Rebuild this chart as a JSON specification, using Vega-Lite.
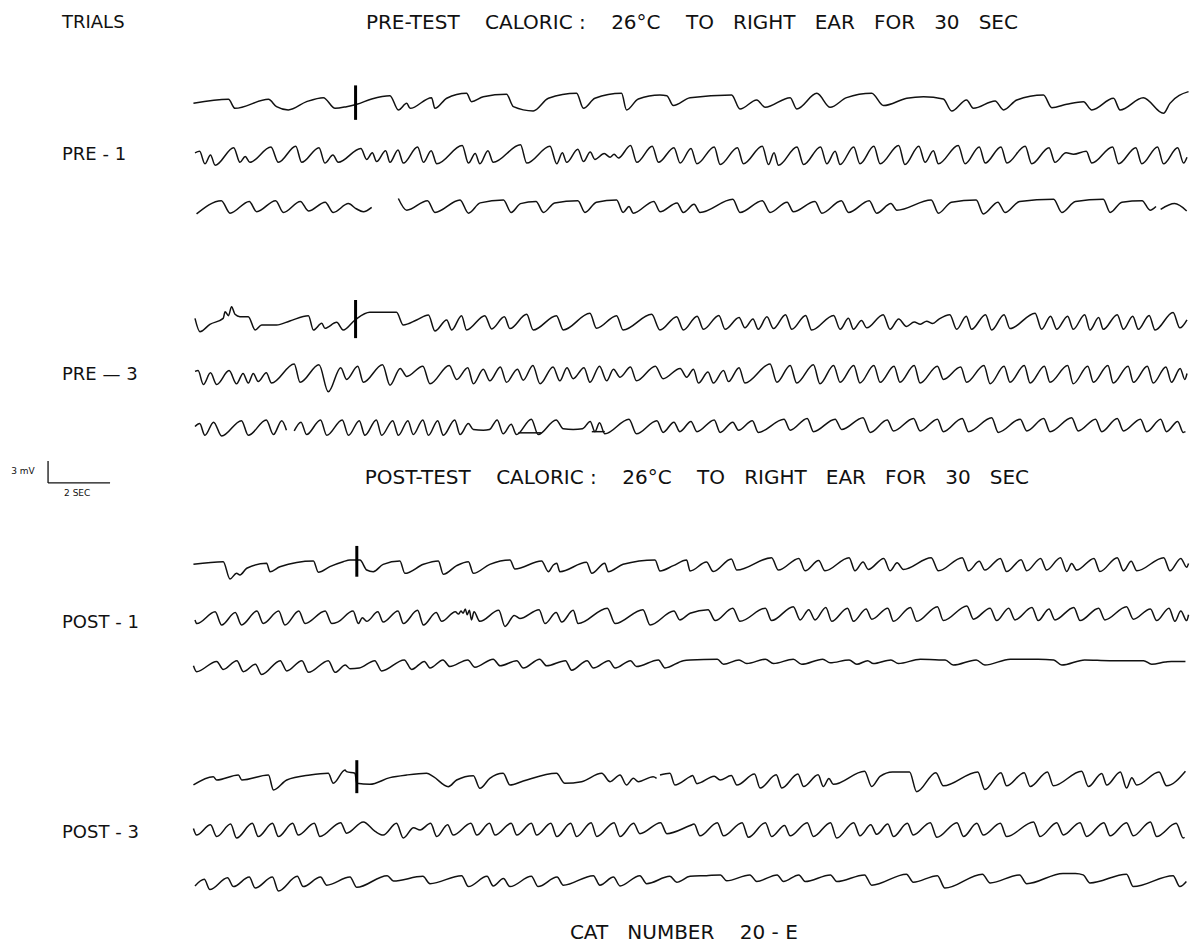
{
"$schema":"https://vega.github.io/schema/vega-lite/v6.json",
"width":1198,"height":949,
"autosize":{"type":"fit","contains":"padding"},
"padding":0,
"background":"white",
"config":{"view":{"stroke":null}},
"datasets":{
"tr":[
{"c":"A1","t":-0.05,"v":-0.05},{"c":"A1","t":1.08,"v":0.5},{"c":"A1","t":1.29,"v":-0.73},{"c":"A1","t":2.37,"v":0.5},{"c":"A1","t":2.63,"v":-0.5},{"c":"A1","t":3.01,"v":-0.95},{"c":"A1","t":3.6,"v":0.18},{"c":"A1","t":4.14,"v":0.73},{"c":"A1","t":4.52,"v":-0.73},{"c":"A1","t":4.89,"v":-0.5},{"c":"A1","t":5.22,"v":-0.18},{"c":"A1","t":5.7,"v":0.55},{"c":"A1","t":6.29,"v":1.0},{"c":"A1","t":6.56,"v":-0.95},{"c":"A1","t":6.83,"v":-0.05},{"c":"A1","t":6.94,"v":-0.73},{"c":"A1","t":7.63,"v":0.73},{"c":"A1","t":7.74,"v":-0.73},{"c":"A1","t":8.12,"v":0.64},{"c":"A1","t":8.76,"v":1.32},{"c":"A1","t":8.92,"v":0.18},{"c":"A1","t":9.3,"v":0.86},{"c":"A1","t":10.05,"v":1.18},{"c":"A1","t":10.27,"v":-0.5},{"c":"A1","t":10.91,"v":-1.09},{"c":"A1","t":11.4,"v":0.64},{"c":"A1","t":12.31,"v":1.32},{"c":"A1","t":12.53,"v":-0.73},{"c":"A1","t":12.9,"v":0.64},{"c":"A1","t":13.76,"v":1.32},{"c":"A1","t":13.92,"v":-0.95},{"c":"A1","t":14.3,"v":0.55},{"c":"A1","t":15.0,"v":1.09},{"c":"A1","t":15.22,"v":1.0},{"c":"A1","t":15.43,"v":-0.36},{"c":"A1","t":15.97,"v":0.7},{"c":"A1","t":17.31,"v":1.09},{"c":"A1","t":17.58,"v":-0.82},{"c":"A1","t":18.12,"v":0.41},{"c":"A1","t":18.39,"v":-0.59},{"c":"A1","t":19.2,"v":0.73},{"c":"A1","t":19.41,"v":-0.82},{"c":"A1","t":20.06,"v":1.32},{"c":"A1","t":20.49,"v":-0.59},{"c":"A1","t":21.02,"v":0.73},{"c":"A1","t":21.83,"v":1.32},{"c":"A1","t":22.21,"v":-0.36},{"c":"A1","t":22.96,"v":0.64},{"c":"A1","t":23.5,"v":0.86},{"c":"A1","t":24.14,"v":0.55},{"c":"A1","t":24.41,"v":-1.09},{"c":"A1","t":24.89,"v":0.41},{"c":"A1","t":25.11,"v":-0.73},{"c":"A1","t":25.81,"v":0.27},{"c":"A1","t":26.08,"v":-0.95},{"c":"A1","t":26.51,"v":0.41},{"c":"A1","t":27.37,"v":1.09},{"c":"A1","t":27.64,"v":-0.64},{"c":"A1","t":28.12,"v":-0.18},{"c":"A1","t":28.66,"v":0.18},{"c":"A1","t":28.93,"v":-0.95},{"c":"A1","t":29.63,"v":0.64},{"c":"A1","t":29.84,"v":-0.95},{"c":"A1","t":30.59,"v":0.73},{"c":"A1","t":31.24,"v":-1.41},{"c":"A1","t":31.45,"v":-0.05},{"c":"A1","t":32.05,"v":1.55},

{"c":"A2","t":0.0,"v":0.3},{"c":"A2","t":0.15,"v":0.5},{"c":"A2","t":0.32,"v":-1.2},{"c":"A2","t":0.5,"v":0.0},{"c":"A2","t":0.65,"v":-1.4},{"c":"A2","t":1.25,"v":1.0},{"c":"A2","t":1.45,"v":-1.0},{"c":"A2","t":1.62,"v":-0.2},{"c":"A2","t":1.77,"v":-1.0},{"c":"A2","t":2.45,"v":1.1},{"c":"A2","t":2.69,"v":-1.0},{"c":"A2","t":3.25,"v":1.2},{"c":"A2","t":3.44,"v":-1.0},{"c":"A2","t":4.0,"v":1.0},{"c":"A2","t":4.19,"v":-1.1},{"c":"A2","t":4.45,"v":0.0},{"c":"A2","t":4.62,"v":-1.0},{"c":"A2","t":5.35,"v":0.9},{"c":"A2","t":5.54,"v":-0.6},{"c":"A2","t":5.72,"v":0.3},{"c":"A2","t":5.86,"v":-0.9},{"c":"A2","t":6.15,"v":0.6},{"c":"A2","t":6.29,"v":-1.0},{"c":"A2","t":6.55,"v":0.7},{"c":"A2","t":6.72,"v":-1.1},{"c":"A2","t":7.18,"v":1.1},{"c":"A2","t":7.37,"v":-1.0},{"c":"A2","t":7.62,"v":0.6},{"c":"A2","t":7.8,"v":-1.2},{"c":"A2","t":8.62,"v":1.3},{"c":"A2","t":8.82,"v":-1.1},{"c":"A2","t":9.04,"v":0.2},{"c":"A2","t":9.19,"v":-1.2},{"c":"A2","t":9.45,"v":0.6},{"c":"A2","t":9.62,"v":-1.0},{"c":"A2","t":10.5,"v":1.4},{"c":"A2","t":10.7,"v":-1.1},{"c":"A2","t":11.45,"v":1.2},{"c":"A2","t":11.67,"v":-1.2},{"c":"A2","t":11.85,"v":0.3},{"c":"A2","t":11.99,"v":-1.0},{"c":"A2","t":12.35,"v":0.8},{"c":"A2","t":12.53,"v":-0.9},{"c":"A2","t":12.75,"v":0.4},{"c":"A2","t":12.9,"v":-0.6},{"c":"A2","t":13.2,"v":0.2},{"c":"A2","t":13.39,"v":-0.3},{"c":"A2","t":13.52,"v":0.1},{"c":"A2","t":13.66,"v":-0.4},{"c":"A2","t":14.05,"v":1.3},{"c":"A2","t":14.25,"v":-1.0},{"c":"A2","t":14.75,"v":1.2},{"c":"A2","t":14.95,"v":-1.0},{"c":"A2","t":15.45,"v":1.0},{"c":"A2","t":15.65,"v":-1.1},{"c":"A2","t":16.0,"v":0.9},{"c":"A2","t":16.19,"v":-1.2},{"c":"A2","t":16.75,"v":1.1},{"c":"A2","t":16.94,"v":-1.3},{"c":"A2","t":17.5,"v":1.0},{"c":"A2","t":17.69,"v":-1.2},{"c":"A2","t":18.3,"v":1.2},{"c":"A2","t":18.5,"v":-1.3},{"c":"A2","t":18.68,"v":0.3},{"c":"A2","t":18.82,"v":-1.4},{"c":"A2","t":19.42,"v":1.1},{"c":"A2","t":19.63,"v":-1.3},{"c":"A2","t":20.18,"v":1.1},{"c":"A2","t":20.38,"v":-1.2},{"c":"A2","t":20.65,"v":0.5},{"c":"A2","t":20.81,"v":-1.3},{"c":"A2","t":21.25,"v":1.1},{"c":"A2","t":21.45,"v":-1.2},{"c":"A2","t":21.9,"v":1.2},{"c":"A2","t":22.1,"v":-1.2},{"c":"A2","t":22.7,"v":1.3},{"c":"A2","t":22.9,"v":-1.3},{"c":"A2","t":23.35,"v":1.2},{"c":"A2","t":23.55,"v":-1.0},{"c":"A2","t":23.82,"v":0.6},{"c":"A2","t":23.98,"v":-1.2},{"c":"A2","t":24.62,"v":1.3},{"c":"A2","t":24.84,"v":-1.2},{"c":"A2","t":25.3,"v":1.1},{"c":"A2","t":25.49,"v":-1.1},{"c":"A2","t":26.0,"v":1.1},{"c":"A2","t":26.19,"v":-1.1},{"c":"A2","t":26.78,"v":1.2},{"c":"A2","t":26.99,"v":-1.2},{"c":"A2","t":27.55,"v":1.0},{"c":"A2","t":27.74,"v":-1.0},{"c":"A2","t":28.1,"v":0.3},{"c":"A2","t":28.34,"v":0.1},{"c":"A2","t":28.75,"v":0.5},{"c":"A2","t":28.93,"v":-1.1},{"c":"A2","t":29.6,"v":1.1},{"c":"A2","t":29.79,"v":-1.2},{"c":"A2","t":30.35,"v":1.0},{"c":"A2","t":30.54,"v":-1.2},{"c":"A2","t":31.05,"v":1.1},{"c":"A2","t":31.24,"v":-1.2},{"c":"A2","t":31.7,"v":1.0},{"c":"A2","t":31.89,"v":-1.1},{"c":"A2","t":32.0,"v":-0.3},

{"c":"A3","s":"a","t":0.05,"v":-0.8},{"c":"A3","s":"a","t":0.85,"v":1.0},{"c":"A3","s":"a","t":1.13,"v":-0.7},{"c":"A3","s":"a","t":1.75,"v":0.9},{"c":"A3","s":"a","t":1.99,"v":-0.5},{"c":"A3","s":"a","t":2.6,"v":1.0},{"c":"A3","s":"a","t":2.85,"v":-0.6},{"c":"A3","s":"a","t":3.4,"v":0.9},{"c":"A3","s":"a","t":3.66,"v":-0.4},{"c":"A3","s":"a","t":4.2,"v":0.8},{"c":"A3","s":"a","t":4.46,"v":-0.6},{"c":"A3","s":"a","t":4.95,"v":0.6},{"c":"A3","s":"a","t":5.2,"v":-0.1},{"c":"A3","s":"a","t":5.43,"v":-0.5},{"c":"A3","s":"a","t":5.7,"v":0.1},
{"c":"A3","s":"b","t":6.56,"v":1.3},{"c":"A3","s":"b","t":6.83,"v":-0.3},{"c":"A3","s":"b","t":7.5,"v":1.0},{"c":"A3","s":"b","t":7.74,"v":-0.6},{"c":"A3","s":"b","t":8.55,"v":1.1},{"c":"A3","s":"b","t":8.82,"v":-0.7},{"c":"A3","s":"b","t":9.2,"v":0.7},{"c":"A3","s":"b","t":9.95,"v":1.1},{"c":"A3","s":"b","t":10.2,"v":-0.6},{"c":"A3","s":"b","t":10.5,"v":0.6},{"c":"A3","s":"b","t":11.0,"v":0.9},{"c":"A3","s":"b","t":11.24,"v":-0.6},{"c":"A3","s":"b","t":11.6,"v":0.7},{"c":"A3","s":"b","t":12.35,"v":1.0},{"c":"A3","s":"b","t":12.58,"v":-0.6},{"c":"A3","s":"b","t":12.95,"v":0.8},{"c":"A3","s":"b","t":13.6,"v":1.1},{"c":"A3","s":"b","t":13.81,"v":-0.6},{"c":"A3","s":"b","t":14.0,"v":0.2},{"c":"A3","s":"b","t":14.14,"v":-0.7},{"c":"A3","s":"b","t":14.8,"v":0.9},{"c":"A3","s":"b","t":15.0,"v":-0.5},{"c":"A3","s":"b","t":15.55,"v":0.7},{"c":"A3","s":"b","t":15.75,"v":-0.6},{"c":"A3","s":"b","t":16.1,"v":0.5},{"c":"A3","s":"b","t":16.29,"v":-0.6},{"c":"A3","s":"b","t":17.35,"v":1.2},{"c":"A3","s":"b","t":17.58,"v":-0.6},{"c":"A3","s":"b","t":18.3,"v":1.0},{"c":"A3","s":"b","t":18.55,"v":-0.6},{"c":"A3","s":"b","t":19.1,"v":0.8},{"c":"A3","s":"b","t":19.3,"v":-0.5},{"c":"A3","s":"b","t":20.0,"v":0.9},{"c":"A3","s":"b","t":20.22,"v":-0.7},{"c":"A3","s":"b","t":20.85,"v":1.0},{"c":"A3","s":"b","t":21.08,"v":-0.6},{"c":"A3","s":"b","t":21.75,"v":1.0},{"c":"A3","s":"b","t":21.99,"v":-0.7},{"c":"A3","s":"b","t":22.45,"v":0.6},{"c":"A3","s":"b","t":22.64,"v":-0.3},{"c":"A3","s":"b","t":23.75,"v":1.1},{"c":"A3","s":"b","t":23.98,"v":-0.7},{"c":"A3","s":"b","t":24.4,"v":0.8},{"c":"A3","s":"b","t":25.2,"v":1.1},{"c":"A3","s":"b","t":25.43,"v":-0.8},{"c":"A3","s":"b","t":25.9,"v":0.8},{"c":"A3","s":"b","t":26.13,"v":-0.6},{"c":"A3","s":"b","t":26.6,"v":0.9},{"c":"A3","s":"b","t":27.7,"v":1.2},{"c":"A3","s":"b","t":27.96,"v":-0.6},{"c":"A3","s":"b","t":28.4,"v":0.9},{"c":"A3","s":"b","t":29.3,"v":1.2},{"c":"A3","s":"b","t":29.52,"v":-0.6},{"c":"A3","s":"b","t":29.9,"v":0.8},{"c":"A3","s":"b","t":30.55,"v":1.0},{"c":"A3","s":"b","t":30.81,"v":-0.3},{"c":"A3","s":"b","t":31.0,"v":0.2},
{"c":"A3","s":"c","t":31.15,"v":-0.2},{"c":"A3","s":"c","t":31.6,"v":0.6},{"c":"A3","s":"c","t":31.99,"v":-0.4},

{"c":"B1","t":0.0,"v":0.5},{"c":"B1","t":0.16,"v":-1.32},{"c":"B1","t":0.48,"v":-0.32},{"c":"B1","t":0.91,"v":0.5},{"c":"B1","t":0.97,"v":1.41},{"c":"B1","t":1.08,"v":0.86},{"c":"B1","t":1.18,"v":2.09},{"c":"B1","t":1.29,"v":1.05},{"c":"B1","t":1.45,"v":0.73},{"c":"B1","t":1.72,"v":0.73},{"c":"B1","t":1.94,"v":-1.09},{"c":"B1","t":2.15,"v":-0.41},{"c":"B1","t":2.63,"v":-0.41},{"c":"B1","t":3.06,"v":0.14},{"c":"B1","t":3.66,"v":0.86},{"c":"B1","t":3.82,"v":-1.09},{"c":"B1","t":4.09,"v":-0.18},{"c":"B1","t":4.19,"v":-0.86},{"c":"B1","t":4.57,"v":-0.05},{"c":"B1","t":4.78,"v":-1.09},{"c":"B1","t":5.16,"v":0.27},{"c":"B1","t":5.64,"v":1.32},{"c":"B1","t":6.5,"v":1.32},{"c":"B1","t":6.72,"v":-0.41},{"c":"B1","t":7.15,"v":0.27},{"c":"B1","t":7.53,"v":0.95},{"c":"B1","t":7.74,"v":-1.23},{"c":"B1","t":8.12,"v":0.27},{"c":"B1","t":8.28,"v":-1.09},{"c":"B1","t":8.6,"v":0.86},{"c":"B1","t":8.76,"v":-1.09},{"c":"B1","t":9.35,"v":0.86},{"c":"B1","t":9.57,"v":-0.95},{"c":"B1","t":9.98,"v":0.7},{"c":"B1","t":10.16,"v":-0.9},{"c":"B1","t":10.7,"v":1.05},{"c":"B1","t":10.91,"v":-1.09},{"c":"B1","t":11.66,"v":0.86},{"c":"B1","t":11.88,"v":-1.09},{"c":"B1","t":12.74,"v":1.18},{"c":"B1","t":12.95,"v":-0.86},{"c":"B1","t":13.6,"v":0.86},{"c":"B1","t":13.81,"v":-1.09},{"c":"B1","t":14.73,"v":1.05},{"c":"B1","t":15.0,"v":-1.09},{"c":"B1","t":15.54,"v":0.73},{"c":"B1","t":15.75,"v":-1.09},{"c":"B1","t":16.2,"v":0.8},{"c":"B1","t":16.4,"v":-1.0},{"c":"B1","t":16.9,"v":0.9},{"c":"B1","t":17.1,"v":-1.0},{"c":"B1","t":17.55,"v":0.6},{"c":"B1","t":17.74,"v":-0.8},{"c":"B1","t":18.0,"v":0.4},{"c":"B1","t":18.17,"v":-1.0},{"c":"B1","t":18.45,"v":0.7},{"c":"B1","t":18.66,"v":-0.9},{"c":"B1","t":19.05,"v":1.0},{"c":"B1","t":19.25,"v":-1.0},{"c":"B1","t":19.7,"v":0.9},{"c":"B1","t":19.89,"v":-1.1},{"c":"B1","t":20.6,"v":0.9},{"c":"B1","t":20.81,"v":-1.0},{"c":"B1","t":21.08,"v":0.5},{"c":"B1","t":21.24,"v":-1.0},{"c":"B1","t":21.5,"v":0.2},{"c":"B1","t":21.67,"v":-0.8},{"c":"B1","t":22.2,"v":1.0},{"c":"B1","t":22.42,"v":-1.0},{"c":"B1","t":22.7,"v":0.4},{"c":"B1","t":22.95,"v":-0.6},{"c":"B1","t":23.2,"v":0.0},{"c":"B1","t":23.4,"v":-0.3},{"c":"B1","t":23.6,"v":0.1},{"c":"B1","t":23.8,"v":-0.2},{"c":"B1","t":24.0,"v":0.4},{"c":"B1","t":24.35,"v":1.0},{"c":"B1","t":24.57,"v":-1.0},{"c":"B1","t":24.88,"v":0.8},{"c":"B1","t":25.05,"v":-1.0},{"c":"B1","t":25.5,"v":1.0},{"c":"B1","t":25.7,"v":-1.1},{"c":"B1","t":26.1,"v":1.0},{"c":"B1","t":26.29,"v":-0.9},{"c":"B1","t":27.1,"v":1.2},{"c":"B1","t":27.31,"v":-1.0},{"c":"B1","t":27.6,"v":0.8},{"c":"B1","t":27.8,"v":-1.0},{"c":"B1","t":28.15,"v":0.8},{"c":"B1","t":28.33,"v":-1.0},{"c":"B1","t":28.7,"v":1.0},{"c":"B1","t":28.87,"v":-1.1},{"c":"B1","t":29.15,"v":0.6},{"c":"B1","t":29.3,"v":-1.0},{"c":"B1","t":29.75,"v":1.0},{"c":"B1","t":29.95,"v":-1.0},{"c":"B1","t":30.25,"v":0.8},{"c":"B1","t":30.43,"v":-1.0},{"c":"B1","t":30.78,"v":0.9},{"c":"B1","t":30.97,"v":-1.1},{"c":"B1","t":31.55,"v":1.3},{"c":"B1","t":31.77,"v":-0.8},{"c":"B1","t":32.0,"v":0.3},

{"c":"B2","t":0.0,"v":0.5},{"c":"B2","t":0.1,"v":0.6},{"c":"B2","t":0.27,"v":-1.3},{"c":"B2","t":0.5,"v":0.3},{"c":"B2","t":0.7,"v":-1.3},{"c":"B2","t":1.1,"v":0.6},{"c":"B2","t":1.34,"v":-1.2},{"c":"B2","t":1.55,"v":0.2},{"c":"B2","t":1.72,"v":-1.1},{"c":"B2","t":1.88,"v":0.2},{"c":"B2","t":2.04,"v":-0.9},{"c":"B2","t":2.3,"v":0.3},{"c":"B2","t":2.47,"v":-1.1},{"c":"B2","t":3.2,"v":1.5},{"c":"B2","t":3.39,"v":-1.0},{"c":"B2","t":4.0,"v":1.4},{"c":"B2","t":4.3,"v":-2.3},{"c":"B2","t":4.7,"v":1.0},{"c":"B2","t":4.89,"v":-0.6},{"c":"B2","t":5.25,"v":1.2},{"c":"B2","t":5.43,"v":-1.0},{"c":"B2","t":6.05,"v":1.4},{"c":"B2","t":6.29,"v":-1.4},{"c":"B2","t":6.62,"v":0.9},{"c":"B2","t":6.83,"v":-0.2},{"c":"B2","t":7.35,"v":1.2},{"c":"B2","t":7.58,"v":-1.2},{"c":"B2","t":8.2,"v":1.3},{"c":"B2","t":8.44,"v":-0.6},{"c":"B2","t":8.8,"v":1.0},{"c":"B2","t":8.98,"v":-1.2},{"c":"B2","t":9.3,"v":0.8},{"c":"B2","t":9.51,"v":-0.8},{"c":"B2","t":9.85,"v":1.1},{"c":"B2","t":10.05,"v":-1.0},{"c":"B2","t":10.4,"v":0.8},{"c":"B2","t":10.59,"v":-0.7},{"c":"B2","t":10.9,"v":1.3},{"c":"B2","t":11.13,"v":-1.2},{"c":"B2","t":11.55,"v":1.1},{"c":"B2","t":11.77,"v":-0.8},{"c":"B2","t":12.0,"v":1.0},{"c":"B2","t":12.2,"v":-0.5},{"c":"B2","t":12.55,"v":1.0},{"c":"B2","t":12.74,"v":-1.0},{"c":"B2","t":13.05,"v":1.2},{"c":"B2","t":13.28,"v":-0.8},{"c":"B2","t":13.5,"v":0.8},{"c":"B2","t":13.71,"v":-0.3},{"c":"B2","t":14.05,"v":1.1},{"c":"B2","t":14.24,"v":-0.8},{"c":"B2","t":14.85,"v":1.2},{"c":"B2","t":15.1,"v":-0.5},{"c":"B2","t":15.65,"v":0.9},{"c":"B2","t":15.86,"v":-0.3},{"c":"B2","t":16.08,"v":0.8},{"c":"B2","t":16.24,"v":-1.1},{"c":"B2","t":16.55,"v":0.4},{"c":"B2","t":16.72,"v":-1.1},{"c":"B2","t":17.05,"v":0.6},{"c":"B2","t":17.21,"v":-0.9},{"c":"B2","t":17.55,"v":1.0},{"c":"B2","t":17.74,"v":-1.1},{"c":"B2","t":18.55,"v":1.5},{"c":"B2","t":18.77,"v":-1.0},{"c":"B2","t":19.2,"v":1.3},{"c":"B2","t":19.41,"v":-1.1},{"c":"B2","t":19.95,"v":1.4},{"c":"B2","t":20.16,"v":-1.2},{"c":"B2","t":20.6,"v":1.3},{"c":"B2","t":20.81,"v":-1.0},{"c":"B2","t":21.25,"v":1.3},{"c":"B2","t":21.45,"v":-1.1},{"c":"B2","t":21.9,"v":1.3},{"c":"B2","t":22.1,"v":-1.0},{"c":"B2","t":22.55,"v":1.2},{"c":"B2","t":22.74,"v":-1.0},{"c":"B2","t":23.2,"v":1.3},{"c":"B2","t":23.39,"v":-1.1},{"c":"B2","t":23.95,"v":1.2},{"c":"B2","t":24.14,"v":-0.6},{"c":"B2","t":24.7,"v":1.1},{"c":"B2","t":24.89,"v":-1.0},{"c":"B2","t":25.45,"v":1.3},{"c":"B2","t":25.65,"v":-1.2},{"c":"B2","t":26.1,"v":1.2},{"c":"B2","t":26.29,"v":-1.0},{"c":"B2","t":26.75,"v":1.3},{"c":"B2","t":26.94,"v":-1.1},{"c":"B2","t":27.4,"v":1.2},{"c":"B2","t":27.58,"v":-1.0},{"c":"B2","t":28.15,"v":1.3},{"c":"B2","t":28.33,"v":-1.2},{"c":"B2","t":28.8,"v":1.2},{"c":"B2","t":28.98,"v":-1.0},{"c":"B2","t":29.45,"v":1.3},{"c":"B2","t":29.62,"v":-1.1},{"c":"B2","t":30.1,"v":1.2},{"c":"B2","t":30.27,"v":-1.0},{"c":"B2","t":30.72,"v":1.2},{"c":"B2","t":30.91,"v":-1.1},{"c":"B2","t":31.32,"v":1.1},{"c":"B2","t":31.5,"v":-1.0},{"c":"B2","t":31.78,"v":0.9},{"c":"B2","t":31.93,"v":-0.6},{"c":"B2","t":32.0,"v":0.2},

{"c":"B3","s":"a","t":0.0,"v":0.2},{"c":"B3","s":"a","t":0.15,"v":0.6},{"c":"B3","s":"a","t":0.32,"v":-1.0},{"c":"B3","s":"a","t":0.6,"v":0.8},{"c":"B3","s":"a","t":0.86,"v":-1.1},{"c":"B3","s":"a","t":1.5,"v":1.0},{"c":"B3","s":"a","t":1.72,"v":-1.0},{"c":"B3","s":"a","t":2.3,"v":1.1},{"c":"B3","s":"a","t":2.53,"v":-0.9},{"c":"B3","s":"a","t":2.8,"v":1.0},{"c":"B3","s":"a","t":2.95,"v":-0.3},
{"c":"B3","s":"b","t":3.2,"v":-0.4},{"c":"B3","s":"b","t":3.42,"v":0.8},{"c":"B3","s":"b","t":3.6,"v":-0.9},{"c":"B3","s":"b","t":4.05,"v":1.1},{"c":"B3","s":"b","t":4.25,"v":-1.0},{"c":"B3","s":"b","t":4.75,"v":1.1},{"c":"B3","s":"b","t":4.95,"v":-1.0},{"c":"B3","s":"b","t":5.3,"v":1.0},{"c":"B3","s":"b","t":5.48,"v":-1.0},{"c":"B3","s":"b","t":5.85,"v":1.1},{"c":"B3","s":"b","t":6.02,"v":-1.0},{"c":"B3","s":"b","t":6.38,"v":1.0},{"c":"B3","s":"b","t":6.56,"v":-1.0},{"c":"B3","s":"b","t":6.87,"v":1.0},{"c":"B3","s":"b","t":7.04,"v":-0.9},{"c":"B3","s":"b","t":7.35,"v":1.1},{"c":"B3","s":"b","t":7.53,"v":-1.0},{"c":"B3","s":"b","t":7.83,"v":1.0},{"c":"B3","s":"b","t":8.01,"v":-1.0},{"c":"B3","s":"b","t":8.38,"v":1.1},{"c":"B3","s":"b","t":8.55,"v":-0.9},{"c":"B3","s":"b","t":8.82,"v":0.6},{"c":"B3","s":"b","t":8.98,"v":-0.2},{"c":"B3","s":"b","t":9.3,"v":-0.3},{"c":"B3","s":"b","t":9.5,"v":-0.2},{"c":"B3","s":"b","t":9.75,"v":1.1},{"c":"B3","s":"b","t":9.94,"v":-0.8},{"c":"B3","s":"b","t":10.2,"v":0.5},{"c":"B3","s":"b","t":10.37,"v":-0.9},{"c":"B3","s":"b","t":10.85,"v":1.2},{"c":"B3","s":"b","t":11.07,"v":-0.9},{"c":"B3","s":"b","t":11.65,"v":1.1},{"c":"B3","s":"b","t":11.88,"v":-0.1},{"c":"B3","s":"b","t":12.2,"v":-0.2},{"c":"B3","s":"b","t":12.5,"v":-0.1},{"c":"B3","s":"b","t":12.75,"v":0.9},{"c":"B3","s":"b","t":12.9,"v":-0.5},{"c":"B3","s":"b","t":13.05,"v":0.7},{"c":"B3","s":"b","t":13.22,"v":-0.8},{"c":"B3","s":"b","t":14.0,"v":1.2},{"c":"B3","s":"b","t":14.24,"v":-0.8},{"c":"B3","s":"b","t":14.9,"v":1.0},{"c":"B3","s":"b","t":15.1,"v":-0.6},{"c":"B3","s":"b","t":15.45,"v":0.8},{"c":"B3","s":"b","t":15.64,"v":-0.5},{"c":"B3","s":"b","t":16.0,"v":0.9},{"c":"B3","s":"b","t":16.19,"v":-0.5},{"c":"B3","s":"b","t":16.75,"v":1.1},{"c":"B3","s":"b","t":16.94,"v":-0.6},{"c":"B3","s":"b","t":17.35,"v":0.8},{"c":"B3","s":"b","t":17.53,"v":-0.3},{"c":"B3","s":"b","t":17.98,"v":1.0},{"c":"B3","s":"b","t":18.17,"v":-0.6},{"c":"B3","s":"b","t":19.0,"v":1.2},{"c":"B3","s":"b","t":19.2,"v":-0.3},{"c":"B3","s":"b","t":19.75,"v":1.3},{"c":"B3","s":"b","t":19.95,"v":-0.5},{"c":"B3","s":"b","t":20.65,"v":1.2},{"c":"B3","s":"b","t":20.86,"v":-0.2},{"c":"B3","s":"b","t":21.55,"v":1.4},{"c":"B3","s":"b","t":21.78,"v":-0.6},{"c":"B3","s":"b","t":22.33,"v":1.1},{"c":"B3","s":"b","t":22.53,"v":-0.4},{"c":"B3","s":"b","t":23.18,"v":1.3},{"c":"B3","s":"b","t":23.39,"v":-0.4},{"c":"B3","s":"b","t":23.95,"v":1.2},{"c":"B3","s":"b","t":24.14,"v":-0.5},{"c":"B3","s":"b","t":24.75,"v":1.3},{"c":"B3","s":"b","t":24.95,"v":-0.5},{"c":"B3","s":"b","t":25.7,"v":1.4},{"c":"B3","s":"b","t":25.91,"v":-0.6},{"c":"B3","s":"b","t":26.62,"v":1.2},{"c":"B3","s":"b","t":26.83,"v":-0.4},{"c":"B3","s":"b","t":27.38,"v":1.3},{"c":"B3","s":"b","t":27.58,"v":-0.5},{"c":"B3","s":"b","t":28.28,"v":1.4},{"c":"B3","s":"b","t":28.49,"v":-0.4},{"c":"B3","s":"b","t":29.05,"v":1.2},{"c":"B3","s":"b","t":29.25,"v":-0.5},{"c":"B3","s":"b","t":29.75,"v":1.3},{"c":"B3","s":"b","t":29.95,"v":-0.4},{"c":"B3","s":"b","t":30.5,"v":1.2},{"c":"B3","s":"b","t":30.7,"v":-0.5},{"c":"B3","s":"b","t":31.15,"v":1.2},{"c":"B3","s":"b","t":31.34,"v":-0.5},{"c":"B3","s":"b","t":31.7,"v":0.9},{"c":"B3","s":"b","t":31.88,"v":-0.6},{"c":"B3","s":"b","t":31.95,"v":-0.5},
{"c":"B3","s":"x1","t":10.43,"v":-0.66},{"c":"B3","s":"x1","t":11.18,"v":-0.66},{"c":"B3","s":"x2","t":12.8,"v":-0.5},{"c":"B3","s":"x2","t":13.22,"v":-0.5},

{"c":"C1","t":-0.05,"v":0.09},{"c":"C1","t":0.91,"v":0.45},{"c":"C1","t":1.13,"v":-1.91},{"c":"C1","t":1.34,"v":-1.14},{"c":"C1","t":1.45,"v":-1.36},{"c":"C1","t":1.67,"v":-0.45},{"c":"C1","t":2.31,"v":0.23},{"c":"C1","t":2.42,"v":-0.91},{"c":"C1","t":2.74,"v":-0.23},{"c":"C1","t":3.82,"v":0.55},{"c":"C1","t":3.98,"v":-1.0},{"c":"C1","t":4.35,"v":-0.23},{"c":"C1","t":4.78,"v":0.45},{"c":"C1","t":5.0,"v":0.68},{"c":"C1","t":5.32,"v":0.68},{"c":"C1","t":5.54,"v":-0.68},{"c":"C1","t":5.75,"v":-0.91},{"c":"C1","t":6.07,"v":0.09},{"c":"C1","t":6.61,"v":0.55},{"c":"C1","t":6.77,"v":-1.14},{"c":"C1","t":7.37,"v":0.09},{"c":"C1","t":7.85,"v":0.55},{"c":"C1","t":8.01,"v":-1.27},{"c":"C1","t":8.44,"v":-0.09},{"c":"C1","t":8.82,"v":0.45},{"c":"C1","t":8.98,"v":-1.14},{"c":"C1","t":9.51,"v":0.09},{"c":"C1","t":10.16,"v":0.68},{"c":"C1","t":10.32,"v":-0.55},{"c":"C1","t":11.18,"v":0.55},{"c":"C1","t":11.4,"v":-0.91},{"c":"C1","t":11.56,"v":0.0},{"c":"C1","t":11.67,"v":0.23},{"c":"C1","t":11.77,"v":-0.91},{"c":"C1","t":12.63,"v":0.36},{"c":"C1","t":12.8,"v":-1.14},{"c":"C1","t":13.22,"v":0.23},{"c":"C1","t":13.33,"v":-0.91},{"c":"C1","t":13.81,"v":0.09},{"c":"C1","t":14.84,"v":0.68},{"c":"C1","t":15.0,"v":-0.82},{"c":"C1","t":15.43,"v":-0.09},{"c":"C1","t":15.86,"v":0.68},{"c":"C1","t":15.97,"v":-0.82},{"c":"C1","t":16.5,"v":0.4},{"c":"C1","t":16.72,"v":-0.9},{"c":"C1","t":17.3,"v":0.8},{"c":"C1","t":17.48,"v":-0.7},{"c":"C1","t":18.6,"v":1.0},{"c":"C1","t":18.82,"v":-0.7},{"c":"C1","t":19.48,"v":0.9},{"c":"C1","t":19.68,"v":-0.8},{"c":"C1","t":20.12,"v":0.6},{"c":"C1","t":20.32,"v":-0.8},{"c":"C1","t":21.1,"v":1.0},{"c":"C1","t":21.29,"v":-0.8},{"c":"C1","t":21.55,"v":0.4},{"c":"C1","t":21.72,"v":-0.6},{"c":"C1","t":22.22,"v":0.9},{"c":"C1","t":22.42,"v":-0.8},{"c":"C1","t":22.65,"v":0.3},{"c":"C1","t":22.85,"v":-0.6},{"c":"C1","t":23.75,"v":1.0},{"c":"C1","t":23.98,"v":-0.8},{"c":"C1","t":24.75,"v":1.0},{"c":"C1","t":24.95,"v":-0.8},{"c":"C1","t":25.3,"v":0.5},{"c":"C1","t":25.48,"v":-0.7},{"c":"C1","t":25.98,"v":0.9},{"c":"C1","t":26.18,"v":-0.9},{"c":"C1","t":26.65,"v":0.7},{"c":"C1","t":26.83,"v":-0.8},{"c":"C1","t":27.28,"v":0.9},{"c":"C1","t":27.47,"v":-0.7},{"c":"C1","t":27.92,"v":1.0},{"c":"C1","t":28.12,"v":-0.9},{"c":"C1","t":28.28,"v":0.2},{"c":"C1","t":28.44,"v":-0.7},{"c":"C1","t":29.0,"v":0.9},{"c":"C1","t":29.19,"v":-0.9},{"c":"C1","t":29.75,"v":1.0},{"c":"C1","t":29.95,"v":-0.8},{"c":"C1","t":30.2,"v":0.5},{"c":"C1","t":30.38,"v":-0.8},{"c":"C1","t":31.25,"v":1.0},{"c":"C1","t":31.45,"v":-0.8},{"c":"C1","t":31.8,"v":0.9},{"c":"C1","t":31.99,"v":-0.3},{"c":"C1","t":32.05,"v":0.2},

{"c":"C2","t":0.0,"v":-0.4},{"c":"C2","t":0.06,"v":-0.9},{"c":"C2","t":0.65,"v":0.7},{"c":"C2","t":0.86,"v":-1.1},{"c":"C2","t":1.3,"v":0.6},{"c":"C2","t":1.5,"v":-1.1},{"c":"C2","t":2.0,"v":0.8},{"c":"C2","t":2.2,"v":-0.9},{"c":"C2","t":2.7,"v":0.8},{"c":"C2","t":2.9,"v":-1.1},{"c":"C2","t":3.35,"v":0.8},{"c":"C2","t":3.55,"v":-0.9},{"c":"C2","t":4.2,"v":0.8},{"c":"C2","t":4.41,"v":-0.9},{"c":"C2","t":4.6,"v":-0.7},{"c":"C2","t":5.1,"v":0.8},{"c":"C2","t":5.27,"v":-0.9},{"c":"C2","t":5.4,"v":-0.1},{"c":"C2","t":5.54,"v":-0.6},{"c":"C2","t":5.9,"v":0.7},{"c":"C2","t":6.07,"v":-0.7},{"c":"C2","t":6.55,"v":0.8},{"c":"C2","t":6.72,"v":-0.9},{"c":"C2","t":7.18,"v":0.9},{"c":"C2","t":7.37,"v":-1.1},{"c":"C2","t":7.78,"v":0.6},{"c":"C2","t":7.96,"v":-0.6},{"c":"C2","t":8.4,"v":0.7},{"c":"C2","t":8.5,"v":0.4},{"c":"C2","t":8.58,"v":0.8},{"c":"C2","t":8.65,"v":0.5},{"c":"C2","t":8.72,"v":1.1},{"c":"C2","t":8.78,"v":0.3},{"c":"C2","t":8.85,"v":0.9},{"c":"C2","t":8.92,"v":-0.4},{"c":"C2","t":9.0,"v":0.7},{"c":"C2","t":9.19,"v":-0.6},{"c":"C2","t":9.8,"v":0.9},{"c":"C2","t":10.0,"v":-1.3},{"c":"C2","t":10.3,"v":0.2},{"c":"C2","t":10.48,"v":-0.2},{"c":"C2","t":11.1,"v":1.0},{"c":"C2","t":11.29,"v":-0.9},{"c":"C2","t":11.65,"v":0.6},{"c":"C2","t":11.83,"v":-0.7},{"c":"C2","t":12.2,"v":0.9},{"c":"C2","t":12.36,"v":-0.9},{"c":"C2","t":13.3,"v":1.2},{"c":"C2","t":13.55,"v":-0.9},{"c":"C2","t":14.45,"v":1.0},{"c":"C2","t":14.68,"v":-1.1},{"c":"C2","t":15.45,"v":0.8},{"c":"C2","t":15.64,"v":-0.4},{"c":"C2","t":15.97,"v":0.5},{"c":"C2","t":16.55,"v":1.0},{"c":"C2","t":16.78,"v":-0.5},{"c":"C2","t":17.35,"v":1.2},{"c":"C2","t":17.58,"v":-0.6},{"c":"C2","t":18.4,"v":1.2},{"c":"C2","t":18.6,"v":-0.5},{"c":"C2","t":19.3,"v":1.4},{"c":"C2","t":19.52,"v":-0.4},{"c":"C2","t":19.8,"v":1.0},{"c":"C2","t":20.0,"v":-0.4},{"c":"C2","t":20.35,"v":1.3},{"c":"C2","t":20.54,"v":-0.6},{"c":"C2","t":21.05,"v":1.2},{"c":"C2","t":21.24,"v":-0.6},{"c":"C2","t":21.65,"v":1.1},{"c":"C2","t":21.83,"v":-0.3},{"c":"C2","t":22.35,"v":1.2},{"c":"C2","t":22.53,"v":-0.6},{"c":"C2","t":23.08,"v":1.3},{"c":"C2","t":23.28,"v":-0.6},{"c":"C2","t":23.95,"v":1.4},{"c":"C2","t":24.14,"v":-0.5},{"c":"C2","t":24.9,"v":1.5},{"c":"C2","t":25.11,"v":-0.3},{"c":"C2","t":25.65,"v":1.2},{"c":"C2","t":25.86,"v":-0.5},{"c":"C2","t":26.25,"v":1.2},{"c":"C2","t":26.45,"v":-0.4},{"c":"C2","t":27.0,"v":1.3},{"c":"C2","t":27.2,"v":-0.5},{"c":"C2","t":27.55,"v":1.1},{"c":"C2","t":27.74,"v":-0.4},{"c":"C2","t":28.35,"v":1.3},{"c":"C2","t":28.55,"v":-0.5},{"c":"C2","t":29.15,"v":1.2},{"c":"C2","t":29.35,"v":-0.4},{"c":"C2","t":30.05,"v":1.4},{"c":"C2","t":30.27,"v":-0.3},{"c":"C2","t":30.82,"v":1.1},{"c":"C2","t":31.02,"v":-0.5},{"c":"C2","t":31.42,"v":1.2},{"c":"C2","t":31.61,"v":-0.6},{"c":"C2","t":31.8,"v":0.8},{"c":"C2","t":31.99,"v":-0.5},{"c":"C2","t":32.05,"v":0.3},

{"c":"C3","t":-0.05,"v":0.3},{"c":"C3","t":0.05,"v":-0.5},{"c":"C3","t":0.7,"v":0.9},{"c":"C3","t":0.91,"v":-0.2},{"c":"C3","t":1.35,"v":1.0},{"c":"C3","t":1.56,"v":-0.5},{"c":"C3","t":1.95,"v":0.5},{"c":"C3","t":2.15,"v":-0.9},{"c":"C3","t":2.75,"v":1.0},{"c":"C3","t":2.96,"v":-0.4},{"c":"C3","t":3.45,"v":1.0},{"c":"C3","t":3.66,"v":-0.6},{"c":"C3","t":4.3,"v":1.0},{"c":"C3","t":4.52,"v":-0.6},{"c":"C3","t":4.85,"v":0.4},{"c":"C3","t":5.0,"v":-0.1},{"c":"C3","t":5.3,"v":0.0},{"c":"C3","t":5.8,"v":1.0},{"c":"C3","t":6.02,"v":-0.4},{"c":"C3","t":6.75,"v":1.1},{"c":"C3","t":6.99,"v":-0.2},{"c":"C3","t":7.4,"v":0.9},{"c":"C3","t":7.58,"v":0.0},{"c":"C3","t":8.0,"v":1.1},{"c":"C3","t":8.22,"v":0.2},{"c":"C3","t":8.8,"v":1.1},{"c":"C3","t":9.03,"v":0.1},{"c":"C3","t":9.62,"v":1.2},{"c":"C3","t":9.84,"v":0.3},{"c":"C3","t":10.38,"v":1.0},{"c":"C3","t":10.59,"v":0.0},{"c":"C3","t":11.12,"v":1.2},{"c":"C3","t":11.34,"v":0.3},{"c":"C3","t":11.95,"v":1.0},{"c":"C3","t":12.15,"v":-0.3},{"c":"C3","t":12.65,"v":1.0},{"c":"C3","t":12.85,"v":0.0},{"c":"C3","t":13.35,"v":1.0},{"c":"C3","t":13.55,"v":0.0},{"c":"C3","t":14.05,"v":1.0},{"c":"C3","t":14.24,"v":0.2},{"c":"C3","t":14.95,"v":1.1},{"c":"C3","t":15.16,"v":0.0},{"c":"C3","t":15.75,"v":1.0},{"c":"C3","t":15.97,"v":1.1},{"c":"C3","t":16.85,"v":1.2},{"c":"C3","t":17.05,"v":0.5},{"c":"C3","t":17.55,"v":1.1},{"c":"C3","t":17.8,"v":0.6},{"c":"C3","t":18.4,"v":1.2},{"c":"C3","t":18.66,"v":0.6},{"c":"C3","t":19.3,"v":1.2},{"c":"C3","t":19.57,"v":0.5},{"c":"C3","t":20.25,"v":1.2},{"c":"C3","t":20.49,"v":0.7},{"c":"C3","t":21.1,"v":1.1},{"c":"C3","t":21.35,"v":0.5},{"c":"C3","t":21.7,"v":1.0},{"c":"C3","t":21.88,"v":0.6},{"c":"C3","t":22.45,"v":1.1},{"c":"C3","t":22.69,"v":0.6},{"c":"C3","t":23.4,"v":1.2},{"c":"C3","t":24.0,"v":1.1},{"c":"C3","t":24.2,"v":1.1},{"c":"C3","t":24.46,"v":0.4},{"c":"C3","t":25.2,"v":1.1},{"c":"C3","t":25.48,"v":0.4},{"c":"C3","t":26.3,"v":1.2},{"c":"C3","t":27.2,"v":1.2},{"c":"C3","t":27.7,"v":1.1},{"c":"C3","t":27.96,"v":0.4},{"c":"C3","t":28.7,"v":1.1},{"c":"C3","t":29.5,"v":1.0},{"c":"C3","t":30.6,"v":1.0},{"c":"C3","t":30.86,"v":0.5},{"c":"C3","t":31.3,"v":0.8},{"c":"C3","t":31.5,"v":0.9},{"c":"C3","t":31.95,"v":0.9},

{"c":"D1","s":"a","t":-0.05,"v":-0.68},{"c":"D1","s":"a","t":0.59,"v":0.45},{"c":"D1","s":"a","t":0.7,"v":0.0},{"c":"D1","s":"a","t":1.4,"v":0.68},{"c":"D1","s":"a","t":1.51,"v":0.0},{"c":"D1","s":"a","t":2.37,"v":0.68},{"c":"D1","s":"a","t":2.53,"v":-1.36},{"c":"D1","s":"a","t":2.96,"v":0.0},{"c":"D1","s":"a","t":3.71,"v":0.68},{"c":"D1","s":"a","t":4.3,"v":0.91},{"c":"D1","s":"a","t":4.46,"v":-0.45},{"c":"D1","s":"a","t":4.84,"v":1.36},{"c":"D1","s":"a","t":4.89,"v":1.14},{"c":"D1","s":"a","t":5.16,"v":0.91},{"c":"D1","s":"a","t":5.22,"v":-0.45},{"c":"D1","s":"a","t":5.64,"v":-0.59},{"c":"D1","s":"a","t":6.29,"v":0.32},{"c":"D1","s":"a","t":6.83,"v":0.68},{"c":"D1","s":"a","t":7.47,"v":0.91},{"c":"D1","s":"a","t":7.69,"v":0.45},{"c":"D1","s":"a","t":8.17,"v":-0.91},{"c":"D1","s":"a","t":8.44,"v":0.0},{"c":"D1","s":"a","t":8.98,"v":0.59},{"c":"D1","s":"a","t":9.19,"v":-1.14},{"c":"D1","s":"a","t":9.51,"v":0.23},{"c":"D1","s":"a","t":9.94,"v":0.91},{"c":"D1","s":"a","t":10.16,"v":-0.68},{"c":"D1","s":"a","t":10.59,"v":-0.14},{"c":"D1","s":"a","t":11.66,"v":0.91},{"c":"D1","s":"a","t":11.93,"v":-0.45},{"c":"D1","s":"a","t":12.47,"v":-0.23},{"c":"D1","s":"a","t":13.12,"v":0.91},{"c":"D1","s":"a","t":13.39,"v":-0.23},{"c":"D1","s":"a","t":13.71,"v":0.68},{"c":"D1","s":"a","t":13.92,"v":-0.68},{"c":"D1","s":"a","t":14.14,"v":0.23},{"c":"D1","s":"a","t":14.3,"v":-0.23},{"c":"D1","s":"a","t":14.78,"v":0.45},{"c":"D1","s":"a","t":14.89,"v":0.23},
{"c":"D1","s":"b","t":15.0,"v":0.68},{"c":"D1","s":"b","t":15.32,"v":0.91},{"c":"D1","s":"b","t":15.48,"v":-0.68},{"c":"D1","s":"b","t":15.97,"v":0.45},{"c":"D1","s":"b","t":16.05,"v":0.6},{"c":"D1","s":"b","t":16.19,"v":-0.5},{"c":"D1","s":"b","t":16.75,"v":0.5},{"c":"D1","s":"b","t":16.94,"v":0.0},{"c":"D1","s":"b","t":17.3,"v":0.6},{"c":"D1","s":"b","t":17.48,"v":-0.7},{"c":"D1","s":"b","t":18.05,"v":0.8},{"c":"D1","s":"b","t":18.23,"v":-1.1},{"c":"D1","s":"b","t":18.75,"v":0.7},{"c":"D1","s":"b","t":18.93,"v":-1.1},{"c":"D1","s":"b","t":19.45,"v":0.8},{"c":"D1","s":"b","t":19.63,"v":-0.9},{"c":"D1","s":"b","t":20.1,"v":0.7},{"c":"D1","s":"b","t":20.27,"v":-0.9},{"c":"D1","s":"b","t":20.45,"v":0.2},{"c":"D1","s":"b","t":20.59,"v":-0.6},{"c":"D1","s":"b","t":21.6,"v":1.2},{"c":"D1","s":"b","t":21.83,"v":-0.9},{"c":"D1","s":"b","t":22.1,"v":0.5},{"c":"D1","s":"b","t":22.5,"v":1.1},{"c":"D1","s":"b","t":23.05,"v":1.1},{"c":"D1","s":"b","t":23.28,"v":-1.6},{"c":"D1","s":"b","t":23.9,"v":1.0},{"c":"D1","s":"b","t":24.14,"v":-0.8},{"c":"D1","s":"b","t":25.25,"v":1.1},{"c":"D1","s":"b","t":25.48,"v":-1.3},{"c":"D1","s":"b","t":26.0,"v":1.0},{"c":"D1","s":"b","t":26.18,"v":-0.8},{"c":"D1","s":"b","t":26.75,"v":1.0},{"c":"D1","s":"b","t":26.94,"v":-0.9},{"c":"D1","s":"b","t":27.5,"v":1.1},{"c":"D1","s":"b","t":27.69,"v":-0.8},{"c":"D1","s":"b","t":28.6,"v":1.2},{"c":"D1","s":"b","t":28.82,"v":-0.9},{"c":"D1","s":"b","t":29.25,"v":0.9},{"c":"D1","s":"b","t":29.41,"v":-0.7},{"c":"D1","s":"b","t":29.85,"v":1.1},{"c":"D1","s":"b","t":30.05,"v":-1.1},{"c":"D1","s":"b","t":30.22,"v":0.3},{"c":"D1","s":"b","t":30.38,"v":-0.7},{"c":"D1","s":"b","t":31.1,"v":1.1},{"c":"D1","s":"b","t":31.34,"v":-0.8},{"c":"D1","s":"b","t":31.95,"v":1.2},

{"c":"D2","t":-0.05,"v":0.2},{"c":"D2","t":0.05,"v":-0.7},{"c":"D2","t":0.5,"v":0.7},{"c":"D2","t":0.7,"v":-0.9},{"c":"D2","t":1.15,"v":0.8},{"c":"D2","t":1.34,"v":-1.1},{"c":"D2","t":1.85,"v":0.9},{"c":"D2","t":2.04,"v":-0.9},{"c":"D2","t":2.5,"v":0.9},{"c":"D2","t":2.69,"v":-0.9},{"c":"D2","t":3.15,"v":0.9},{"c":"D2","t":3.33,"v":-0.7},{"c":"D2","t":3.85,"v":0.9},{"c":"D2","t":4.03,"v":-0.9},{"c":"D2","t":4.7,"v":1.0},{"c":"D2","t":4.89,"v":-0.45},{"c":"D2","t":5.43,"v":1.1},{"c":"D2","t":5.81,"v":-0.2},{"c":"D2","t":6.07,"v":-0.7},{"c":"D2","t":6.5,"v":0.9},{"c":"D2","t":6.72,"v":-1.1},{"c":"D2","t":7.05,"v":0.3},{"c":"D2","t":7.26,"v":0.0},{"c":"D2","t":7.6,"v":0.9},{"c":"D2","t":7.8,"v":-0.9},{"c":"D2","t":8.15,"v":0.7},{"c":"D2","t":8.33,"v":-0.7},{"c":"D2","t":8.9,"v":0.9},{"c":"D2","t":9.09,"v":-0.7},{"c":"D2","t":9.5,"v":0.9},{"c":"D2","t":9.68,"v":-0.7},{"c":"D2","t":10.2,"v":0.9},{"c":"D2","t":10.38,"v":-0.7},{"c":"D2","t":10.85,"v":0.9},{"c":"D2","t":11.02,"v":-0.7},{"c":"D2","t":11.48,"v":0.9},{"c":"D2","t":11.67,"v":-0.9},{"c":"D2","t":12.12,"v":0.9},{"c":"D2","t":12.31,"v":-0.9},{"c":"D2","t":12.78,"v":1.0},{"c":"D2","t":12.96,"v":-0.9},{"c":"D2","t":13.52,"v":1.0},{"c":"D2","t":13.71,"v":-0.9},{"c":"D2","t":14.15,"v":0.9},{"c":"D2","t":14.35,"v":-0.5},{"c":"D2","t":15.02,"v":1.0},{"c":"D2","t":15.22,"v":-0.5},{"c":"D2","t":15.97,"v":0.6},{"c":"D2","t":16.1,"v":0.8},{"c":"D2","t":16.29,"v":-0.8},{"c":"D2","t":16.85,"v":1.0},{"c":"D2","t":17.05,"v":-0.8},{"c":"D2","t":17.65,"v":1.0},{"c":"D2","t":17.85,"v":-1.0},{"c":"D2","t":18.4,"v":1.0},{"c":"D2","t":18.6,"v":-0.9},{"c":"D2","t":19.02,"v":0.6},{"c":"D2","t":19.2,"v":-0.8},{"c":"D2","t":19.75,"v":1.0},{"c":"D2","t":19.95,"v":-0.9},{"c":"D2","t":20.5,"v":1.0},{"c":"D2","t":20.7,"v":-1.1},{"c":"D2","t":21.25,"v":1.0},{"c":"D2","t":21.45,"v":-0.8},{"c":"D2","t":21.8,"v":0.7},{"c":"D2","t":21.99,"v":-0.6},{"c":"D2","t":22.35,"v":0.8},{"c":"D2","t":22.53,"v":-0.9},{"c":"D2","t":22.98,"v":0.9},{"c":"D2","t":23.17,"v":-0.7},{"c":"D2","t":23.72,"v":1.0},{"c":"D2","t":23.93,"v":-1.0},{"c":"D2","t":24.58,"v":1.0},{"c":"D2","t":24.79,"v":-0.9},{"c":"D2","t":25.22,"v":0.9},{"c":"D2","t":25.43,"v":-0.7},{"c":"D2","t":25.98,"v":0.9},{"c":"D2","t":26.18,"v":-0.9},{"c":"D2","t":27.05,"v":1.1},{"c":"D2","t":27.26,"v":-0.9},{"c":"D2","t":27.8,"v":1.0},{"c":"D2","t":28.01,"v":-0.7},{"c":"D2","t":28.55,"v":1.0},{"c":"D2","t":28.76,"v":-0.9},{"c":"D2","t":29.32,"v":1.0},{"c":"D2","t":29.52,"v":-0.8},{"c":"D2","t":30.05,"v":1.0},{"c":"D2","t":30.27,"v":-0.8},{"c":"D2","t":30.82,"v":1.1},{"c":"D2","t":31.02,"v":-0.9},{"c":"D2","t":31.65,"v":0.9},{"c":"D2","t":31.88,"v":-1.1},{"c":"D2","t":31.92,"v":-1.0},

{"c":"D3","t":0.0,"v":-0.4},{"c":"D3","t":0.3,"v":0.5},{"c":"D3","t":0.48,"v":-0.9},{"c":"D3","t":1.05,"v":0.7},{"c":"D3","t":1.24,"v":-0.5},{"c":"D3","t":1.75,"v":0.8},{"c":"D3","t":1.94,"v":-0.7},{"c":"D3","t":2.5,"v":0.8},{"c":"D3","t":2.69,"v":-1.1},{"c":"D3","t":3.3,"v":0.9},{"c":"D3","t":3.49,"v":-0.5},{"c":"D3","t":4.05,"v":0.8},{"c":"D3","t":4.25,"v":-0.3},{"c":"D3","t":5.0,"v":0.8},{"c":"D3","t":5.22,"v":-0.6},{"c":"D3","t":6.2,"v":1.0},{"c":"D3","t":6.4,"v":0.27},{"c":"D3","t":7.35,"v":0.9},{"c":"D3","t":7.58,"v":-0.1},{"c":"D3","t":8.6,"v":1.0},{"c":"D3","t":8.82,"v":-0.5},{"c":"D3","t":9.42,"v":0.9},{"c":"D3","t":9.62,"v":-0.4},{"c":"D3","t":9.95,"v":0.6},{"c":"D3","t":10.16,"v":-0.5},{"c":"D3","t":10.85,"v":0.9},{"c":"D3","t":11.07,"v":-0.5},{"c":"D3","t":11.68,"v":0.8},{"c":"D3","t":11.88,"v":-0.3},{"c":"D3","t":12.85,"v":1.0},{"c":"D3","t":13.06,"v":-0.3},{"c":"D3","t":13.5,"v":0.8},{"c":"D3","t":13.71,"v":-0.4},{"c":"D3","t":14.35,"v":1.0},{"c":"D3","t":14.57,"v":-0.1},{"c":"D3","t":15.32,"v":0.9},{"c":"D3","t":15.54,"v":0.1},{"c":"D3","t":15.97,"v":0.9},{"c":"D3","t":16.5,"v":1.0},{"c":"D3","t":16.95,"v":1.1},{"c":"D3","t":17.15,"v":0.3},{"c":"D3","t":17.9,"v":1.1},{"c":"D3","t":18.12,"v":0.2},{"c":"D3","t":18.78,"v":1.1},{"c":"D3","t":18.98,"v":0.2},{"c":"D3","t":19.48,"v":1.1},{"c":"D3","t":19.68,"v":0.2},{"c":"D3","t":20.5,"v":1.1},{"c":"D3","t":20.7,"v":0.2},{"c":"D3","t":21.6,"v":1.1},{"c":"D3","t":21.83,"v":-0.3},{"c":"D3","t":22.95,"v":1.2},{"c":"D3","t":23.17,"v":0.1},{"c":"D3","t":23.95,"v":1.0},{"c":"D3","t":24.19,"v":-0.7},{"c":"D3","t":25.4,"v":1.2},{"c":"D3","t":25.65,"v":0.0},{"c":"D3","t":26.6,"v":1.1},{"c":"D3","t":26.83,"v":-0.1},{"c":"D3","t":28.0,"v":1.3},{"c":"D3","t":28.4,"v":1.3},{"c":"D3","t":28.65,"v":1.1},{"c":"D3","t":28.87,"v":0.0},{"c":"D3","t":30.05,"v":1.2},{"c":"D3","t":30.27,"v":-0.5},{"c":"D3","t":31.55,"v":1.0},{"c":"D3","t":31.77,"v":-0.5},{"c":"D3","t":31.98,"v":0.2}
],
"stim":[
{"c":"A1","t":5.18,"v":2.4},{"c":"A1","t":5.18,"v":-2.3},
{"c":"B1","t":5.18,"v":3.0},{"c":"B1","t":5.18,"v":-2.2},
{"c":"C1","t":5.22,"v":2.6},{"c":"C1","t":5.22,"v":-1.6},
{"c":"D1","t":5.22,"v":2.7},{"c":"D1","t":5.22,"v":-1.8}
],
"titles":[
{"c":"A1","t":16.03,"v":10.9,"txt":"PRE-TEST\u00a0\u00a0\u00a0\u00a0CALORIC\u00a0:\u00a0\u00a0\u00a0\u00a026°C\u00a0\u00a0\u00a0\u00a0TO\u00a0\u00a0\u00a0RIGHT\u00a0\u00a0\u00a0EAR\u00a0\u00a0\u00a0FOR\u00a0\u00a0\u00a030\u00a0\u00a0\u00a0SEC"},
{"c":"B3","t":16.19,"v":-6.82,"txt":"POST-TEST\u00a0\u00a0\u00a0\u00a0CALORIC\u00a0:\u00a0\u00a0\u00a0\u00a026°C\u00a0\u00a0\u00a0\u00a0TO\u00a0\u00a0\u00a0RIGHT\u00a0\u00a0\u00a0EAR\u00a0\u00a0\u00a0FOR\u00a0\u00a0\u00a030\u00a0\u00a0\u00a0SEC"},
{"c":"D3","t":15.77,"v":-6.82,"txt":"CAT\u00a0\u00a0\u00a0NUMBER\u00a0\u00a0\u00a0\u00a020\u00a0-\u00a0E"}
],
"labels":[
{"c":"A1","t":-4.29,"v":10.9,"txt":"TRIALS"},
{"c":"A2","t":-4.29,"v":0.0,"txt":"PRE\u00a0-\u00a01"},
{"c":"B2","t":-4.29,"v":0.0,"txt":"PRE\u00a0—\u00a03"},
{"c":"C2","t":-4.29,"v":-0.8,"txt":"POST\u00a0-\u00a01"},
{"c":"D2","t":-4.29,"v":-0.4,"txt":"POST\u00a0-\u00a03"}
],
"small":[
{"c":"B3","t":-5.55,"v":-5.9,"txt":"3 mV"},
{"c":"B3","t":-3.8,"v":-8.9,"txt":"2 SEC"}
],
"cal":[
{"c":"B3","t":-4.74,"t2":-4.74,"v":-4.5,"v2":-7.5},
{"c":"B3","t":-4.74,"t2":-2.74,"v":-7.5,"v2":-7.5}
]
},
"encoding":{"x":{"field":"t","type":"quantitative","scale":{"domain":[-6.29,32.355],"nice":false,"zero":false},"axis":null}},
"resolve":{"scale":{"y":"independent"}},
"layer":[
{"encoding":{"y":{"field":"v","type":"quantitative","scale":{"domain":[-115.42,14.05],"nice":false,"zero":false},"axis":null}},
 "layer":[
  {"data":{"name":"tr"},"transform":[{"filter":"datum.c==='A1'"}],"mark":{"type":"line","interpolate":"monotone","stroke":"#111","strokeWidth":1.5},"encoding":{"detail":{"field":"s"}}},
  {"data":{"name":"stim"},"transform":[{"filter":"datum.c==='A1'"}],"mark":{"type":"line","stroke":"#000","strokeWidth":3},"encoding":{}},
  {"data":{"name":"titles"},"transform":[{"filter":"datum.c==='A1'"}],"mark":{"type":"text","font":"DejaVu Sans","fontSize":20,"align":"center","baseline":"middle","fill":"#111"},"encoding":{"text":{"field":"txt"}}},
  {"data":{"name":"labels"},"transform":[{"filter":"datum.c==='A1'"}],"mark":{"type":"text","font":"DejaVu Sans","fontSize":18,"align":"left","baseline":"middle","fill":"#111"},"encoding":{"text":{"field":"txt"}}}
 ]},
{"encoding":{"y":{"field":"v","type":"quantitative","scale":{"domain":[-108.32,21.15],"nice":false,"zero":false},"axis":null}},
 "layer":[
  {"data":{"name":"tr"},"transform":[{"filter":"datum.c==='A2'"}],"mark":{"type":"line","interpolate":"monotone","stroke":"#111","strokeWidth":1.5},"encoding":{"detail":{"field":"s"}}},
  {"data":{"name":"labels"},"transform":[{"filter":"datum.c==='A2'"}],"mark":{"type":"text","font":"DejaVu Sans","fontSize":18,"align":"left","baseline":"middle","fill":"#111"},"encoding":{"text":{"field":"txt"}}}
 ]},
{"encoding":{"y":{"field":"v","type":"quantitative","scale":{"domain":[-101.09,28.38],"nice":false,"zero":false},"axis":null}},
 "layer":[
  {"data":{"name":"tr"},"transform":[{"filter":"datum.c==='A3'"}],"mark":{"type":"line","interpolate":"monotone","stroke":"#111","strokeWidth":1.5},"encoding":{"detail":{"field":"s"}}}
 ]},
{"encoding":{"y":{"field":"v","type":"quantitative","scale":{"domain":[-85.54,43.93],"nice":false,"zero":false},"axis":null}},
 "layer":[
  {"data":{"name":"tr"},"transform":[{"filter":"datum.c==='B1'"}],"mark":{"type":"line","interpolate":"monotone","stroke":"#111","strokeWidth":1.5},"encoding":{"detail":{"field":"s"}}},
  {"data":{"name":"stim"},"transform":[{"filter":"datum.c==='B1'"}],"mark":{"type":"line","stroke":"#000","strokeWidth":3},"encoding":{}}
 ]},
{"encoding":{"y":{"field":"v","type":"quantitative","scale":{"domain":[-78.31,51.16],"nice":false,"zero":false},"axis":null}},
 "layer":[
  {"data":{"name":"tr"},"transform":[{"filter":"datum.c==='B2'"}],"mark":{"type":"line","interpolate":"monotone","stroke":"#111","strokeWidth":1.5},"encoding":{"detail":{"field":"s"}}},
  {"data":{"name":"labels"},"transform":[{"filter":"datum.c==='B2'"}],"mark":{"type":"text","font":"DejaVu Sans","fontSize":18,"align":"left","baseline":"middle","fill":"#111"},"encoding":{"text":{"field":"txt"}}}
 ]},
{"encoding":{"y":{"field":"v","type":"quantitative","scale":{"domain":[-71.08,58.39],"nice":false,"zero":false},"axis":null}},
 "layer":[
  {"data":{"name":"tr"},"transform":[{"filter":"datum.c==='B3'"}],"mark":{"type":"line","interpolate":"monotone","stroke":"#111","strokeWidth":1.5},"encoding":{"detail":{"field":"s"}}},
  {"data":{"name":"titles"},"transform":[{"filter":"datum.c==='B3'"}],"mark":{"type":"text","font":"DejaVu Sans","fontSize":20,"align":"center","baseline":"middle","fill":"#111"},"encoding":{"text":{"field":"txt"}}},
  {"data":{"name":"small"},"transform":[{"filter":"datum.c==='B3'"}],"mark":{"type":"text","font":"DejaVu Sans","fontSize":9,"align":"center","baseline":"middle","fill":"#111"},"encoding":{"text":{"field":"txt"}}},
  {"data":{"name":"cal"},"transform":[{"filter":"datum.c==='B3'"}],"mark":{"type":"rule","stroke":"#111","strokeWidth":1.3},"encoding":{"x2":{"field":"t2"},"y2":{"field":"v2"}}}
 ]},
{"encoding":{"y":{"field":"v","type":"quantitative","scale":{"domain":[-52.39,77.08],"nice":false,"zero":false},"axis":null}},
 "layer":[
  {"data":{"name":"tr"},"transform":[{"filter":"datum.c==='C1'"}],"mark":{"type":"line","interpolate":"monotone","stroke":"#111","strokeWidth":1.5},"encoding":{"detail":{"field":"s"}}},
  {"data":{"name":"stim"},"transform":[{"filter":"datum.c==='C1'"}],"mark":{"type":"line","stroke":"#000","strokeWidth":3},"encoding":{}}
 ]},
{"encoding":{"y":{"field":"v","type":"quantitative","scale":{"domain":[-45.3,84.17],"nice":false,"zero":false},"axis":null}},
 "layer":[
  {"data":{"name":"tr"},"transform":[{"filter":"datum.c==='C2'"}],"mark":{"type":"line","interpolate":"monotone","stroke":"#111","strokeWidth":1.5},"encoding":{"detail":{"field":"s"}}},
  {"data":{"name":"labels"},"transform":[{"filter":"datum.c==='C2'"}],"mark":{"type":"text","font":"DejaVu Sans","fontSize":18,"align":"left","baseline":"middle","fill":"#111"},"encoding":{"text":{"field":"txt"}}}
 ]},
{"encoding":{"y":{"field":"v","type":"quantitative","scale":{"domain":[-38.34,91.13],"nice":false,"zero":false},"axis":null}},
 "layer":[
  {"data":{"name":"tr"},"transform":[{"filter":"datum.c==='C3'"}],"mark":{"type":"line","interpolate":"monotone","stroke":"#111","strokeWidth":1.5},"encoding":{"detail":{"field":"s"}}}
 ]},
{"encoding":{"y":{"field":"v","type":"quantitative","scale":{"domain":[-23.06,106.41],"nice":false,"zero":false},"axis":null}},
 "layer":[
  {"data":{"name":"tr"},"transform":[{"filter":"datum.c==='D1'"}],"mark":{"type":"line","interpolate":"monotone","stroke":"#111","strokeWidth":1.5},"encoding":{"detail":{"field":"s"}}},
  {"data":{"name":"stim"},"transform":[{"filter":"datum.c==='D1'"}],"mark":{"type":"line","stroke":"#000","strokeWidth":3},"encoding":{}}
 ]},
{"encoding":{"y":{"field":"v","type":"quantitative","scale":{"domain":[-16.24,113.23],"nice":false,"zero":false},"axis":null}},
 "layer":[
  {"data":{"name":"tr"},"transform":[{"filter":"datum.c==='D2'"}],"mark":{"type":"line","interpolate":"monotone","stroke":"#111","strokeWidth":1.5},"encoding":{"detail":{"field":"s"}}},
  {"data":{"name":"labels"},"transform":[{"filter":"datum.c==='D2'"}],"mark":{"type":"text","font":"DejaVu Sans","fontSize":18,"align":"left","baseline":"middle","fill":"#111"},"encoding":{"text":{"field":"txt"}}}
 ]},
{"encoding":{"y":{"field":"v","type":"quantitative","scale":{"domain":[-9.01,120.46],"nice":false,"zero":false},"axis":null}},
 "layer":[
  {"data":{"name":"tr"},"transform":[{"filter":"datum.c==='D3'"}],"mark":{"type":"line","interpolate":"monotone","stroke":"#111","strokeWidth":1.5},"encoding":{"detail":{"field":"s"}}},
  {"data":{"name":"titles"},"transform":[{"filter":"datum.c==='D3'"}],"mark":{"type":"text","font":"DejaVu Sans","fontSize":20,"align":"center","baseline":"middle","fill":"#111"},"encoding":{"text":{"field":"txt"}}}
 ]}
]
}
